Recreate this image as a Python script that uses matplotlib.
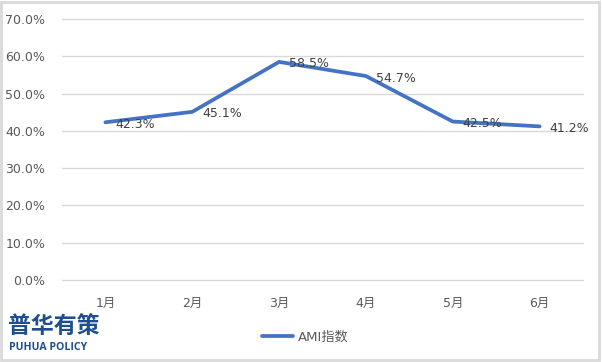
import matplotlib
matplotlib.use("Agg")
import matplotlib.pyplot as plt
from matplotlib.patches import Rectangle
from matplotlib.ticker import FuncFormatter

categories = ["1月", "2月", "3月", "4月", "5月", "6月"]
ami_values = [42.3, 45.1, 58.5, 54.7, 42.5, 41.2]
series_name = "AMI指数"
y_ticks = [0, 10, 20, 30, 40, 50, 60, 70]

plt.rcParams['font.family'] = ['DejaVu Sans', 'Noto Sans CJK SC']

W, H = 602, 362
fig = plt.figure(figsize=(W / 100, H / 100), dpi=100)
fig.patch.set_facecolor('white')

ax = fig.add_axes([62 / W, 1 - 280 / H, (583 - 62) / W, (280 - 19) / H])
x = list(range(len(categories)))
line, = ax.plot(x, ami_values, color='#4472C4', linewidth=2.7,
                solid_capstyle='round', solid_joinstyle='round', label=series_name, zorder=3)

for xi, v in zip(x, ami_values):
    ax.annotate(f"{v:.1f}%", (xi, v), xytext=(10, -2), textcoords='offset pixels',
                ha='left', va='center', fontsize=9, color='#404040', zorder=4)

ax.set_xlim(-0.5, len(categories) - 0.5)
ax.set_ylim(0, 70)
ax.set_yticks(y_ticks)
ax.yaxis.set_major_formatter(FuncFormatter(lambda v, p: f"{v:.1f}%"))
ax.set_xticks(x)
ax.set_xticklabels(categories)
ax.grid(axis='y', color='#D9D9D9', linewidth=1)
for gl in ax.get_ygridlines():
    gl.set_clip_on(False)
ax.set_axisbelow(True)
for s in ax.spines.values():
    s.set_visible(False)
ax.tick_params(axis='both', length=0, labelsize=9, labelcolor='#595959')
ax.tick_params(axis='y', pad=12)
ax.tick_params(axis='x', pad=12)

fig.legend(handles=[line], labels=[series_name], loc='center',
           bbox_to_anchor=(305 / W, 1 - 337 / H), frameon=False,
           fontsize=9.5, labelcolor='#595959', handlelength=2.4, handletextpad=0.3)

# logo
fig.text(8 / W, 1 - 326 / H, "普华有策", family=['Noto Sans CJK SC'], fontweight='heavy',
         fontsize=16.5, color='#1D4E8F', ha='left', va='center')
fig.text(9 / W, 1 - 348 / H, "PUHUA POLICY", family=['Open Sans'], fontweight='bold',
         fontsize=7.6, color='#1D4E8F', ha='left', va='center')

# outer border
fig.patches.append(Rectangle((1 / W, 2 / H), (W - 4) / W, (H - 4) / H, transform=fig.transFigure,
                             fill=False, edgecolor='#D9D9D9', linewidth=2))

fig.savefig("out.png", dpi=100, facecolor='white')
